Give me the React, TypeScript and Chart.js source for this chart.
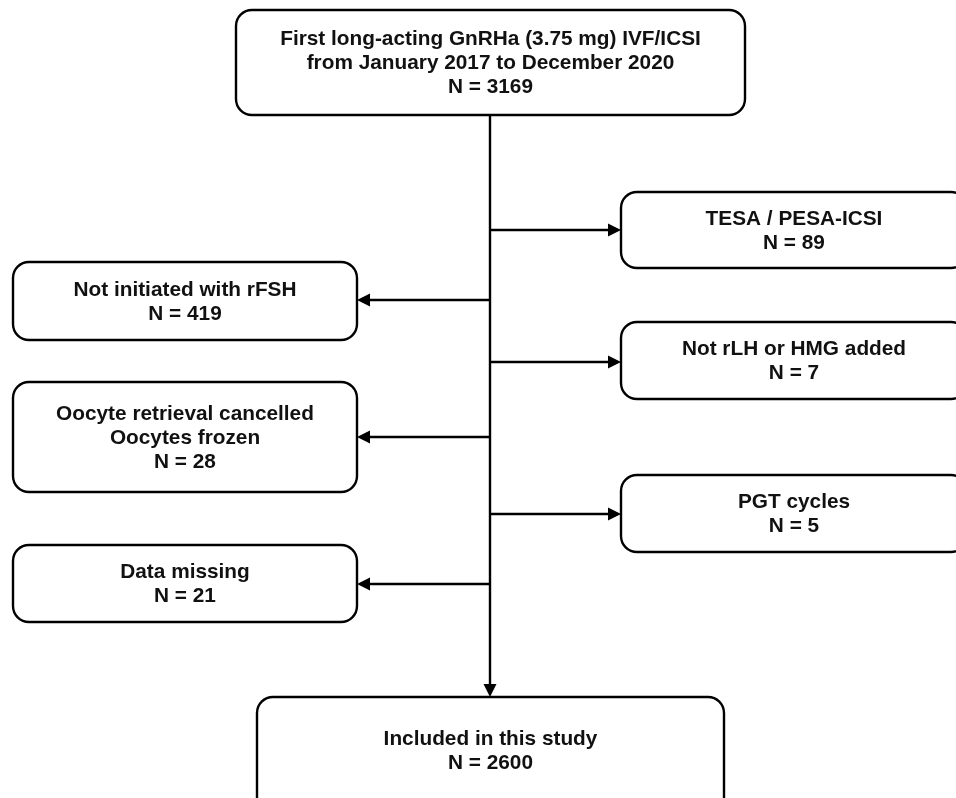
import React, { useEffect, useRef } from "react";
import { Chart, registerables } from "chart.js";

Chart.register(...registerables);

// Flowchart content
const boxTitles: string[][] = [
  ["First long-acting GnRHa (3.75 mg) IVF/ICSI", "from January 2017 to December 2020"],
  ["TESA / PESA-ICSI"],
  ["Not initiated with rFSH"],
  ["Not rLH or HMG added"],
  ["Oocyte retrieval cancelled", "Oocytes frozen"],
  ["PGT cycles"],
  ["Data missing"],
  ["Included in this study"],
];
const boxCounts: number[] = [3169, 89, 419, 7, 28, 5, 21, 2600];

// Layout (in chart units = pixels of the 956x798 frame): [x0, y0, x1, y1]
const boxRects: number[][] = [
  [236, 10, 745, 115],
  [621, 192, 967, 268],
  [13, 262, 357, 340],
  [621, 322, 967, 399],
  [13, 382, 357, 492],
  [621, 475, 967, 552],
  [13, 545, 357, 622],
  [257, 697, 724, 820],
];
// vertical text centre used for the clipped bottom box
const bottomTextCentre = 750;
const trunkX = 490;
// branch arrows: [y, target box index]
const branchY: number[] = [230, 300, 362, 437, 514, 584];
const branchTarget: number[] = [1, 2, 3, 4, 5, 6];

const W = 956;
const H = 798;

function roundRect(ctx: CanvasRenderingContext2D, x0: number, y0: number, x1: number, y1: number, r: number) {
  ctx.beginPath();
  ctx.moveTo(x0 + r, y0);
  ctx.lineTo(x1 - r, y0);
  ctx.arcTo(x1, y0, x1, y0 + r, r);
  ctx.lineTo(x1, y1 - r);
  ctx.arcTo(x1, y1, x1 - r, y1, r);
  ctx.lineTo(x0 + r, y1);
  ctx.arcTo(x0, y1, x0, y1 - r, r);
  ctx.lineTo(x0, y0 + r);
  ctx.arcTo(x0, y0, x0 + r, y0, r);
  ctx.closePath();
}

function arrowHead(ctx: CanvasRenderingContext2D, tx: number, ty: number, dx: number, dy: number) {
  const len = 13;
  const half = 6.5;
  const bx = tx - dx * len;
  const by = ty - dy * len;
  const px = -dy;
  const py = dx;
  ctx.beginPath();
  ctx.moveTo(tx, ty);
  ctx.lineTo(bx + px * half, by + py * half);
  ctx.lineTo(bx - px * half, by - py * half);
  ctx.closePath();
  ctx.fill();
}

const flowPlugin = {
  id: "flow",
  afterDraw(chart: any) {
    const ctx: CanvasRenderingContext2D = chart.ctx;
    const xs = chart.scales.x;
    const ys = chart.scales.y;
    const px = (v: number) => xs.getPixelForValue(v);
    const py = (v: number) => ys.getPixelForValue(v);
    ctx.save();
    ctx.strokeStyle = "#000";
    ctx.fillStyle = "#000";
    ctx.lineWidth = 2.4;

    // trunk
    const top = boxRects[0];
    const bottom = boxRects[7];
    ctx.beginPath();
    ctx.moveTo(px(trunkX), py(top[3]));
    ctx.lineTo(px(trunkX), py(bottom[1]) - 10);
    ctx.stroke();
    arrowHead(ctx, px(trunkX), py(bottom[1]), 0, 1);

    // branches
    branchY.forEach((y, i) => {
      const r = boxRects[branchTarget[i]];
      const toRight = r[0] > trunkX;
      const endX = toRight ? r[0] : r[2];
      const dir = toRight ? 1 : -1;
      ctx.beginPath();
      ctx.moveTo(px(trunkX), py(y));
      ctx.lineTo(px(endX) - dir * 10, py(y));
      ctx.stroke();
      arrowHead(ctx, px(endX), py(y), dir, 0);
    });

    // boxes
    boxRects.forEach((r, i) => {
      ctx.fillStyle = "#fff";
      roundRect(ctx, px(r[0]), py(r[1]), px(r[2]), py(r[3]), 16);
      ctx.fill();
      ctx.stroke();
      ctx.fillStyle = "#111";
      const lines = [...boxTitles[i], "N = " + boxCounts[i]];
      ctx.font = "bold 20.8px 'Liberation Sans', Arial, sans-serif";
      ctx.textAlign = "center";
      ctx.textBaseline = "middle";
      const cx = (px(r[0]) + px(r[2])) / 2;
      const cy = i === 7 ? py(bottomTextCentre) : (py(r[1]) + py(r[3])) / 2;
      const lh = 24.2;
      const startY = cy - ((lines.length - 1) * lh) / 2 + 1;
      lines.forEach((t, k) => {
        ctx.fillText(t, cx, startY + k * lh);
      });
    });
    ctx.restore();
  },
};

export default function App() {
  const ref = useRef<HTMLCanvasElement>(null);
  useEffect(() => {
    document.body.style.margin = "0";
    const canvas = ref.current!;
    const chart = new Chart(canvas, {
      type: "scatter",
      data: { datasets: [{ data: [] }] },
      options: {
        animation: false,
        responsive: false,
        devicePixelRatio: 1,
        layout: { padding: 0 },
        plugins: { legend: { display: false }, tooltip: { enabled: false } },
        scales: {
          x: { type: "linear", min: 0, max: W, display: false },
          y: { type: "linear", min: 0, max: H, reverse: true, display: false },
        },
      },
      plugins: [flowPlugin],
    });
    return () => chart.destroy();
  }, []);
  return (
    <div style={{ width: W, height: H, background: "#fff" }}>
      <canvas ref={ref} width={W} height={H} style={{ display: "block" }} />
    </div>
  );
}
